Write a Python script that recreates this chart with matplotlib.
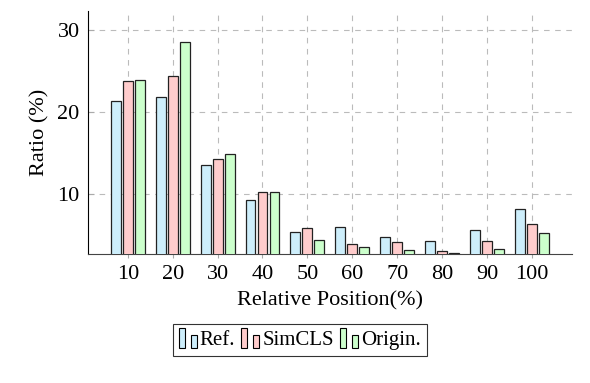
import numpy as np
import matplotlib.pyplot as plt
from matplotlib.patches import Rectangle
from matplotlib.legend_handler import HandlerBase

plt.rcParams['font.family'] = ['Liberation Serif', 'DejaVu Serif']
plt.rcParams['mathtext.fontset'] = 'stix'

# data
positions = [10, 20, 30, 40, 50, 60, 70, 80, 90, 100]
ref = [21.3, 21.8, 13.5, 9.2, 5.3, 6.0, 4.8, 4.3, 5.6, 8.2]
simcls = [23.8, 24.4, 14.2, 10.2, 5.8, 3.9, 4.1, 3.0, 4.3, 6.3]
origin = [23.9, 28.5, 14.9, 10.2, 4.4, 3.5, 3.1, 2.8, 3.3, 5.2]
labels = ['Ref.', 'SimCLS', 'Origin.']
colors = ['#cdeefb', '#ffcccc', '#ccffcc']


class TwoBarHandler(HandlerBase):
    # pgfplots-style legend image: a tall bar and a short bar
    def create_artists(self, legend, orig_handle, xdescent, ydescent,
                       width, height, fontsize, trans):
        fc = orig_handle.get_facecolor()
        w = width * 0.32
        y0 = -ydescent - 0.2 * height
        r1 = Rectangle((-xdescent, y0), w, height * 1.35,
                       facecolor=fc, edgecolor='black', lw=0.8, transform=trans)
        r2 = Rectangle((-xdescent + width * 0.68, y0), w, height * 0.9,
                       facecolor=fc, edgecolor='black', lw=0.8, transform=trans)
        return [r1, r2]


fig = plt.figure(figsize=(5.9, 3.83), dpi=100)
ax = fig.add_axes([0.149, 0.337, 0.82, 0.634])

x = np.array(positions, dtype=float)
w = 2.2
step = 2.67
handles = []
for i, (vals, c) in enumerate(zip([ref, simcls, origin], colors)):
    b = ax.bar(x + (i - 1) * step, vals, width=w, color=c, edgecolor='#222222',
               linewidth=0.9, zorder=3)
    handles.append(b.patches[0])

ax.set_xlim(1.1, 108.9)
ax.set_ylim(2.68, 32.3)
ax.set_xticks(positions)
ax.set_yticks([10, 20, 30])
ax.grid(True, color='#bbbbbb', linestyle=(0, (5, 5)), linewidth=0.8, zorder=0)
ax.tick_params(axis='both', length=4, color='#aaaaaa', labelsize=16)
ax.tick_params(axis='x', direction='inout', length=6, pad=5)
ax.tick_params(axis='y', direction='in', pad=6)
for s in ['top', 'right']:
    ax.spines[s].set_visible(False)
ax.spines['left'].set_color('black')
ax.spines['bottom'].set_color('#444444')
ax.set_xlabel('Relative Position(%)', fontsize=16, labelpad=5)
ax.set_ylabel('Ratio (%)', fontsize=16, labelpad=6)

leg = fig.legend(handles, labels, loc='center', bbox_to_anchor=(0.508, 0.112),
                 ncol=3, fontsize=15, frameon=True, fancybox=False, edgecolor='black',
                 handler_map={h: TwoBarHandler() for h in handles},
                 handlelength=0.85, handletextpad=0.15, columnspacing=0.3,
                 borderpad=0.3, borderaxespad=0)
leg.get_frame().set_linewidth(0.8)

fig.savefig('out.png', dpi=100)
